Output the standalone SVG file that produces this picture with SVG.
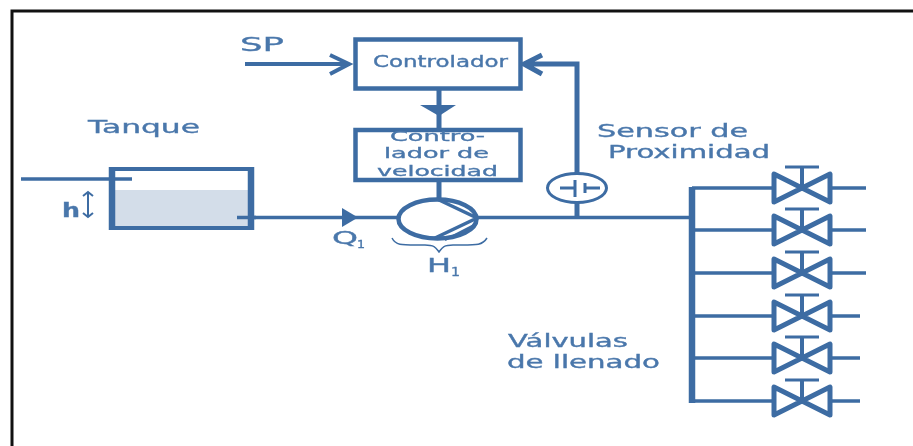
<svg xmlns="http://www.w3.org/2000/svg" width="913" height="446" viewBox="0 0 913 446">
<style>
.l{fill:none;stroke:#3d6ca3;stroke-width:3.500px}
.w1{stroke-width:1.500px}
.w2{stroke-width:2px}
.w3{stroke-width:3px}
.w4{stroke-width:4px}
.w5{stroke-width:5px}
.w6{stroke-width:6.500px}
.t{fill:#3d6ca3}
.box{fill:#fff;stroke:#3d6ca3;stroke-width:4.500px}
text{font-family:"DejaVu Sans","Liberation Sans",sans-serif;fill:#4a77ab;stroke:#4a77ab;stroke-width:0.350px}
</style>
<defs>
<filter id="b" x="-5%" y="-5%" width="110%" height="110%"><feGaussianBlur stdDeviation="0.6"/></filter>
<g id="valve">
<path d="M774 -14V14L830 -14V14Z" fill="#fff" stroke="#3d6ca3" stroke-width="5" stroke-linejoin="round"/>
<path d="M802 0V-21" class="l w4"/>
<path d="M785 -21H819" class="l w3"/>
</g>
</defs>
<rect width="913" height="446" fill="#fff"/>
<path id="frame" d="M12 446V11H913" fill="none" stroke="#111" stroke-width="3"/>
<g filter="url(#b)">
<g id="connectors">
<path class="l" d="M237 217.500H692"/>
<path class="t" d="M342 208L358 217.500L342 227Z"/>
<path class="l w4" d="M245 64H349M330 55L349 64L330 74"/>
<path class="l w5" d="M577 218V64H524M542 55L524 64L542 74"/>
<path class="l w5" d="M439 90V128M439 182V200"/>
<path class="t" d="M420 105H456L439 116Z"/>
<path class="l w6" d="M692 187V403"/>
<path class="l" d="M692 188H772M692 230H772M692 273H772M692 316H772M692 358H772M692 401H772"/>
<path class="l" d="M832 188H866M832 230H866M832 273H866M832 316H860M832 358H860M832 401H860"/>
</g>
<g id="tank">
<rect x="114" y="190" width="134" height="38" fill="#d3dde9"/>
<path class="l w4" d="M112 228V169H252V228Z"/>
<path class="l w6" d="M112 167V230M251 167V230"/>
<path class="l" d="M21 179H132"/>
<path class="l" d="M237 217.500H256"/>
<path class="l w2" d="M88 193V216M83 196L88 192L93 196M83 213L88 217L93 213"/>
<text x="62" y="217" font-size="19" font-weight="bold" textLength="18" lengthAdjust="spacingAndGlyphs">h</text>
<text x="88" y="133" font-size="18" textLength="112" lengthAdjust="spacingAndGlyphs">Tanque</text>
</g>
<g id="sp"><text x="240" y="51" font-size="20" textLength="44" lengthAdjust="spacingAndGlyphs">SP</text></g>
<g id="controlador">
<rect class="box" x="355.500" y="39.500" width="165" height="49"/>
<text x="373" y="67" font-size="15" textLength="135" lengthAdjust="spacingAndGlyphs">Controlador</text>
</g>
<g id="controlador-velocidad">
<rect class="box" x="355.500" y="130" width="165" height="50"/>
<text x="390" y="141" font-size="14.500" textLength="95" lengthAdjust="spacingAndGlyphs">Contro-</text>
<text x="384" y="158" font-size="14.500" textLength="105" lengthAdjust="spacingAndGlyphs">lador de</text>
<text x="377" y="176" font-size="14.500" textLength="121" lengthAdjust="spacingAndGlyphs">velocidad</text>
</g>
<g id="pump">
<ellipse cx="437.500" cy="219" rx="39" ry="19.500" fill="#fff" stroke="#3d6ca3" stroke-width="4.500"/>
<path class="l" d="M437 199L477 218L435 238"/>
<path class="l w2" d="M445 240L476 224"/>
<path class="l w1" d="M392 238C396 246 402 245 425 245C435 245 436 248 439 252C442 248 443 245 453 245C476 245 482 246 487 238"/>
<text x="332" y="244" font-size="18" textLength="26" lengthAdjust="spacingAndGlyphs">Q</text>
<text x="357" y="248" font-size="11" textLength="8" lengthAdjust="spacingAndGlyphs">1</text>
<text x="427" y="272" font-size="19" textLength="24" lengthAdjust="spacingAndGlyphs">H</text>
<text x="451" y="276" font-size="12" textLength="9" lengthAdjust="spacingAndGlyphs">1</text>
</g>
<g id="sensor">
<ellipse cx="577" cy="188" rx="29.500" ry="14.500" fill="#fff" stroke="#3d6ca3" stroke-width="3"/>
<path class="l w3" d="M560 188H575M575 180V197M585 183V193M585 188H600"/>
<text x="597" y="137" font-size="17" textLength="151" lengthAdjust="spacingAndGlyphs">Sensor de</text>
<text x="608" y="158" font-size="17" textLength="162" lengthAdjust="spacingAndGlyphs">Proximidad</text>
</g>
<g id="valvulas">
<use id="v1" href="#valve" y="188"/>
<use id="v2" href="#valve" y="230"/>
<use id="v3" href="#valve" y="273"/>
<use id="v4" href="#valve" y="316"/>
<use id="v5" href="#valve" y="358"/>
<use id="v6" href="#valve" y="401"/>
<text x="508" y="347" font-size="17" textLength="120" lengthAdjust="spacingAndGlyphs">Válvulas</text>
<text x="507" y="368" font-size="17" textLength="153" lengthAdjust="spacingAndGlyphs">de llenado</text>
</g>
</g>
</svg>
